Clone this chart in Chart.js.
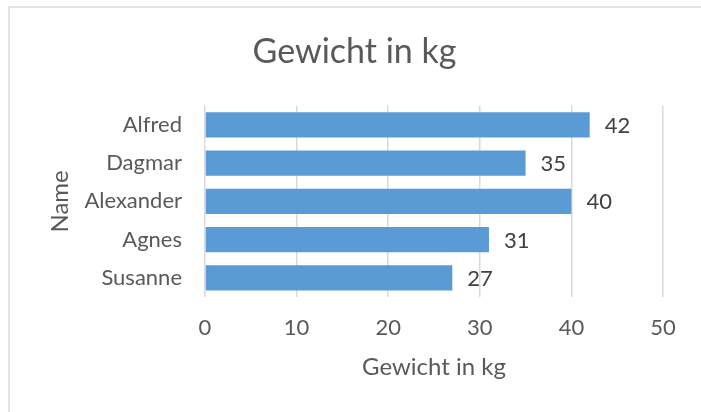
<!DOCTYPE html>
<html>
<head>
<meta charset="utf-8">
<script src="https://cdn.jsdelivr.net/npm/chart.js@4"></script>
<style>
  html, body { margin: 0; padding: 0; background: #fff; overflow: hidden; }
  #rahmen { position: absolute; left: 8px; top: 6px; width: 720px; height: 430px; border: 2px solid #e3e3e3; }
  #wrap { position: absolute; left: 0; top: 0; width: 701px; height: 412px; }
</style>
</head>
<body>
<div id="rahmen"></div>
<div id="wrap"><canvas id="chartGewicht" width="701" height="412"></canvas></div>
<script>
const namen = ['Alfred', 'Dagmar', 'Alexander', 'Agnes', 'Susanne'];
const gewicht = [42, 35, 40, 31, 27];
const titel = 'Gewicht in kg';
const achseX = 'Gewicht in kg';
const achseY = 'Name';

const schrift = 'Lato, "Open Sans", sans-serif';

// Werte rechts neben die Balken schreiben
const wertLabels = {
    id: 'wertLabels',
    afterDatasetsDraw(chart) {
        const c = chart.ctx;
        const meta = chart.getDatasetMeta(0);
        c.save();
        c.font = '22px ' + schrift;
        c.fillStyle = '#404040';
        c.textAlign = 'left';
        c.textBaseline = 'middle';
        meta.data.forEach((bar, i) => {
            c.fillText(String(gewicht[i]), bar.x + 15, bar.y + 1);
        });
        c.restore();
    }
};

const ctx = document.getElementById('chartGewicht').getContext('2d');
const chart = new Chart(ctx, {
    type: 'bar',
    data: {
        labels: namen,
        datasets: [{
            data: gewicht,
            backgroundColor: '#5B9BD5',
            borderWidth: 0,
            categoryPercentage: 0.66,
            barPercentage: 1
        }]
    },
    options: {
        indexAxis: 'y',
        responsive: false,
        animation: false,
        devicePixelRatio: 1,
        layout: { padding: { left: 46, right: 38, top: 0, bottom: 30 } },
        plugins: {
            legend: { display: false },
            tooltip: { enabled: false },
            title: {
                display: true,
                text: titel,
                color: '#595959',
                font: { family: schrift, size: 34, weight: 'normal' },
                padding: { top: 32, bottom: 33 }
            }
        },
        scales: {
            x: {
                min: 0,
                max: 50,
                ticks: { stepSize: 10, color: '#595959', padding: 18, font: { family: schrift, size: 22 } },
                grid: { color: '#d9d9d9', lineWidth: 1.5, drawTicks: false },
                border: { display: false },
                title: { display: true, text: achseX, color: '#595959', padding: 0, font: { family: schrift, size: 24 } },
                afterFit(scale) { scale.height = 85; }
            },
            y: {
                ticks: { color: '#595959', padding: 23, font: { family: schrift, size: 22 } },
                grid: { display: false, drawTicks: false },
                border: { display: false },
                title: { display: true, text: achseY, color: '#595959', padding: 0, font: { family: schrift, size: 24 } },
                afterFit(scale) { scale.width = 159; }
            }
        }
    },
    plugins: [wertLabels]
});
</script>
</body>
</html>
